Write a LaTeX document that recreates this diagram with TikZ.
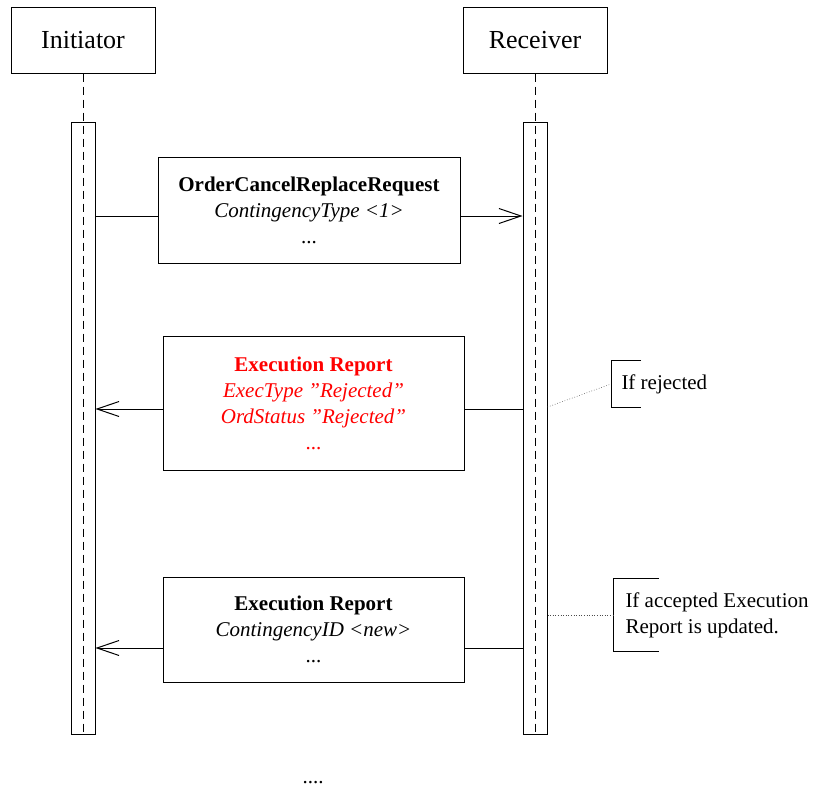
\documentclass[tikz,border=0pt]{standalone}
\usepackage{fontspec}
\setmainfont{Liberation Serif}
\usetikzlibrary{arrows.meta}
\tikzstyle{actor} = [rectangle, minimum width=144pt, minimum height=66pt, text centered, draw=black, font=\fontsize{26}{31}\selectfont]
\tikzstyle{activation} = [rectangle, minimum width=24pt, minimum height=612pt, inner sep=0pt, draw=black, fill=white]
\tikzstyle{message} = [rectangle, minimum width=302pt, inner sep=0pt, align=center, draw=black, fill=white, font=\fontsize{21}{26}\selectfont]
\tikzstyle{note} = [rectangle, anchor=west, align=left, inner xsep=10pt, inner ysep=0pt, font=\fontsize{21}{26}\selectfont]
\tikzstyle{lifeline} = [dash pattern=on 8pt off 5pt]
\tikzstyle{arrow} = [->, >={Straight Barb[length=22pt,width=15pt]}]
\tikzstyle{link} = [dotted, black!70]

\begin{document}
\begin{tikzpicture}[x=1pt, y=-1pt, line width=1pt]
\useasboundingbox (0,0) rectangle (815,787);

% Lifelines
\node (init) [actor] at (83,40) {Initiator};
\node (recv) [actor] at (535,40) {Receiver};
\node (actI) [activation] at (83,428) {};
\node (actR) [activation] at (535,428) {};
\draw [lifeline] (init.south) -- (actI.south);
\draw [lifeline] (recv.south) -- (actR.south);

% Messages
\node (msgA) [message, minimum height=106pt] at (309,210) {\textbf{OrderCancelReplaceRequest}\\\textit{ContingencyType <1>}\\...};
\node (msgB) [message, minimum height=134pt, minimum width=301pt, text=red] at (313.5,403) {\textbf{Execution Report}\\\textit{ExecType ”Rejected”}\\\textit{OrdStatus ”Rejected”}\\...};
\node (msgC) [message, minimum height=105pt, minimum width=301pt] at (313.5,629.5) {\textbf{Execution Report}\\\textit{ContingencyID <new>}\\...};
\node (more) [font=\fontsize{21}{26}\selectfont, inner sep=0pt] at (313,783) {....};

% Notes
\node (noteA) [note, minimum height=46pt] at (611,384) {If rejected};
\node (noteB) [note, minimum height=72pt, inner xsep=12pt] at (613,615) {If accepted Execution\\Report is updated.};
\draw ([xshift=30pt]noteA.north west) -- (noteA.north west) -- (noteA.south west) -- ([xshift=30pt]noteA.south west);
\draw ([xshift=46pt]noteB.north west) -- (noteB.north west) -- (noteB.south west) -- ([xshift=46pt]noteB.south west);

% Arrows
\draw ([yshift=-6pt]msgA.west -| actI.east) -- ([yshift=-6pt]msgA.west);
\draw [arrow] ([yshift=-6pt]msgA.east) -- ([yshift=-6pt]msgA.east -| actR.west);
\draw ([yshift=-6pt]msgB.east -| actR.west) -- ([yshift=-6pt]msgB.east);
\draw [arrow] ([yshift=-6pt]msgB.west) -- ([yshift=-6pt]msgB.west -| actI.east);
\draw ([yshift=-18.5pt]msgC.east -| actR.west) -- ([yshift=-18.5pt]msgC.east);
\draw [arrow] ([yshift=-18.5pt]msgC.west) -- ([yshift=-18.5pt]msgC.west -| actI.east);
\draw [link, line width=0.6pt] ([yshift=-4pt]msgB.east -| actR.east) -- (noteA.west);
\draw [link, line width=0.6pt] (noteB.west -| actR.east) -- (noteB.west);

\end{tikzpicture}
\end{document}
